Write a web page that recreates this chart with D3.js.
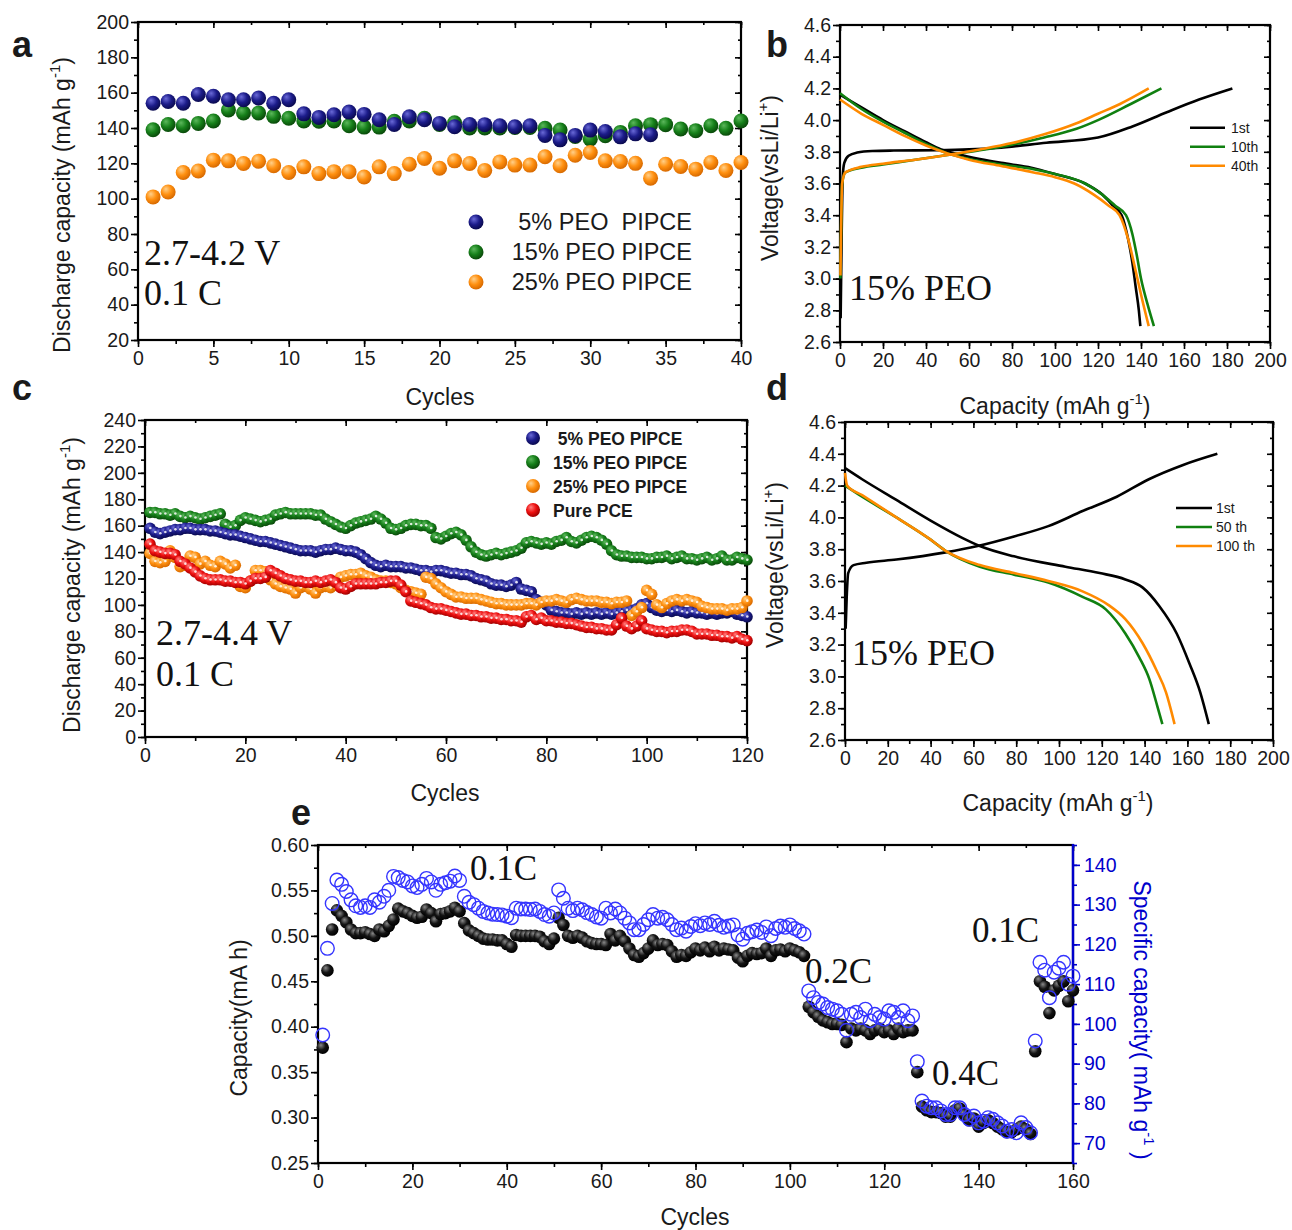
<!DOCTYPE html>
<html>
<head>
<meta charset="utf-8">
<script src="https://cdn.jsdelivr.net/npm/d3@7"></script>
<style>
  body { margin: 0; background: #fff; }
  svg text { font-family: "Liberation Sans", Arial, sans-serif; fill: #1a1a1a; }
  svg text.serif { font-family: "Liberation Serif", "Times New Roman", serif; fill: #111; }
  svg text.pre { white-space: pre; }
</style>
</head>
<body>
<script>
// ---------- panel a: discharge capacity, 2.7-4.2 V (cycle = index + 1)
var aPeo5 = [154, 155, 154, 159, 158, 156, 156, 157, 154, 156, 148, 146, 147.5, 149, 147.7, 144.7, 142, 146.4, 144.7, 142.6,
  140.7, 142, 141.9, 141.3, 140.7, 141.3, 135.8, 133.3, 135.8, 138.8, 138, 135, 136.7, 136.2];
var aPeo15 = [139, 142, 141.3, 142.6, 144, 150.2, 148.5, 148.5, 146.6, 145.5, 144, 143.8, 144, 141.3, 140.5, 140.5, 143.8, 144, 145.5, 142,
  143, 140, 140, 140, 140.3, 140.3, 139.8, 138.8, 135.2, 133.7, 135.6, 137.5, 141.3, 141.9, 141.9, 139.4, 138.5, 141.3, 139.8, 144];
var aPeo25 = [101, 103.8, 114.8, 115.7, 121.8, 121.4, 119.9, 121.2, 118.6, 114.8, 118, 114.2, 115.3, 115.2, 112.3, 118, 114.2, 119.5, 122.7, 117.2,
  121.4, 119.9, 116, 120.8, 119, 119, 123.7, 118.6, 124.6, 126.1, 121.4, 121, 120, 111.6, 119.5, 118.2, 116.7, 120.5, 116, 120.5];
var aLegend = ["5% PEO  PIPCE", "15% PEO PIPCE", "25% PEO PIPCE"];

// ---------- panel b: charge/discharge curves [capacity, voltage]
var bCharge1 = [[0.3, 2.75], [0.8, 3.3], [1.3, 3.65], [2, 3.73], [4, 3.775], [8, 3.795], [15, 3.805], [25, 3.808], [45, 3.81], [60, 3.815],
  [73, 3.825], [96, 3.857], [120, 3.89], [136, 3.96], [152, 4.05], [167, 4.13], [182.5, 4.2]];
var bDis1 = [[0, 4.16], [10, 4.08], [20, 4.0], [30, 3.93], [40, 3.86], [47, 3.815], [55, 3.785], [65, 3.755], [75, 3.73], [89, 3.7],
  [100, 3.66], [114, 3.6], [122, 3.53], [127, 3.46], [131, 3.4], [134, 3.25], [136, 3.1], [137.5, 2.95], [139, 2.8], [139.7, 2.7]];
var bCharge10 = [[0.2, 3.0], [1, 3.6], [2.5, 3.67], [10, 3.7], [20, 3.72], [35, 3.75], [50, 3.78], [65, 3.81], [80, 3.845], [95, 3.89],
  [110, 3.945], [120, 4.0], [135, 4.1], [149.5, 4.2]];
var bDis10 = [[0, 4.17], [10, 4.07], [20, 3.99], [30, 3.92], [40, 3.85], [50, 3.79], [60, 3.755], [75, 3.72], [90, 3.69], [100, 3.66],
  [114, 3.6], [122, 3.53], [128, 3.46], [133, 3.4], [136, 3.28], [138, 3.15], [140, 3.0], [143, 2.84], [146, 2.7]];
var bCharge40 = [[0.2, 3.02], [1, 3.6], [2.5, 3.67], [10, 3.705], [20, 3.725], [35, 3.75], [50, 3.78], [65, 3.815], [80, 3.855], [95, 3.91],
  [110, 3.98], [120, 4.04], [130, 4.1], [143.6, 4.2]];
var bDis40 = [[0, 4.13], [10, 4.04], [20, 3.97], [30, 3.9], [40, 3.84], [50, 3.79], [60, 3.75], [75, 3.71], [90, 3.67], [100, 3.64],
  [109, 3.6], [118, 3.53], [125, 3.46], [130, 3.4], [134, 3.25], [137.5, 3.05], [140, 2.9], [143.6, 2.7]];
var bLegend = ["1st", "10th", "40th"];

// ---------- panel c: discharge capacity, 2.7-4.4 V (cycle = index + 1)
var cPeo5 = [158, 155, 154, 155, 156, 157, 157, 158, 158, 157, 157, 157, 156, 156, 155, 154, 153, 153, 152, 151,
  150, 149, 148, 148, 147, 146, 145, 144, 143, 142, 141, 141, 141, 140, 141, 142, 142, 143, 142, 141,
  141, 140, 138, 135, 132, 130, 129, 130, 129, 129, 129, 128, 128, 127, 126, 126, 125, 126, 126, 125,
  124, 124, 123, 123, 122, 120, 119, 118, 116, 115, 115, 114, 115, 117, 112, 111, 110, 104, 102, 100,
  96, 95, 94, 94, 93, 94, 93, 94, 93, 94, 93, 94, 93, 94, 95, 96, 96, 97, 100, 101,
  98, 96, 95, 96, 95, 96, 95, 94, 95, 94, 94, 93, 94, 93, 94, 94, 95, 93, 92, 91];
var cPeo15 = [170, 170, 169, 169, 168, 169, 167, 166, 167, 166, 165, 166, 167, 168, 169, 161, 159, 160, 164, 166,
  165, 164, 163, 164, 165, 168, 169, 170, 169, 169, 169, 169, 169, 168, 168, 165, 163, 161, 159, 158,
  160, 162, 163, 164, 165, 167, 165, 162, 158, 157, 158, 160, 161, 161, 160, 160, 158, 151, 150, 152,
  154, 155, 153, 149, 144, 140, 138, 137, 138, 139, 138, 139, 140, 141, 143, 147, 148, 147, 146, 147,
  146, 148, 149, 151, 148, 147, 149, 151, 152, 151, 149, 146, 141, 138, 137, 137, 136, 136, 136, 135,
  135, 136, 136, 137, 135, 136, 137, 135, 135, 134, 135, 136, 134, 135, 137, 134, 134, 136, 135, 134];
var cPeo25 = [139, 133, 132, 133, 141, 136, 129, 130, 137, 136, 131, 133, 130, 129, 133, 131, 128, 130, 114, 113,
  118, 126, 126, 125, 119, 116, 114, 113, 112, 109, 113, 114, 112, 109, 113, 114, 113, 115, 121, 122,
  123, 123, 124, 122, 121, 119, 118, 118, 117, 116, 113, 111, 110, 109, 108, 121, 120, 116, 113, 110,
  108, 106, 106, 105, 105, 105, 104, 103, 102, 101, 101, 100, 100, 100, 100, 101, 101, 100, 102, 103,
  103, 104, 103, 102, 104, 105, 104, 103, 103, 103, 102, 102, 101, 102, 102, 103, 92, 95, 98, 111,
  108, 100, 98, 101, 103, 104, 103, 104, 103, 102, 99, 98, 97, 97, 97, 96, 97, 97, 98, 103];
var cPure = [146, 141, 140, 139, 139, 138, 133, 131, 128, 125, 122, 120, 119, 119, 119, 118, 118, 117, 117, 116,
  118, 120, 120, 121, 126, 124, 122, 120, 119, 118, 118, 117, 117, 118, 117, 118, 119, 117, 113, 112,
  114, 116, 116, 116, 116, 116, 117, 117, 118, 118, 115, 110, 103, 102, 101, 100, 98, 97, 97, 96,
  95, 94, 93, 93, 92, 92, 91, 91, 90, 90, 89, 89, 88, 88, 87, 91, 92, 89, 90, 88,
  88, 87, 87, 86, 86, 85, 84, 83, 83, 82, 82, 81, 81, 85, 90, 84, 82, 84, 88, 82,
  81, 80, 80, 79, 80, 80, 81, 81, 80, 78, 78, 78, 77, 77, 76, 76, 75, 76, 74, 73];
var cLegend = [" 5% PEO PIPCE", "15% PEO PIPCE", "25% PEO PIPCE", "Pure PCE"];

// ---------- panel d: charge/discharge curves [capacity, voltage]
var dCharge1 = [[0.3, 3.3], [0.8, 3.5], [1.5, 3.65], [4, 3.7], [10, 3.715], [24, 3.735], [47, 3.78], [62, 3.82], [79, 3.88], [95, 3.945],
  [111, 4.04], [127, 4.13], [142, 4.24], [158, 4.33], [174, 4.4]];
var dDis1 = [[0, 4.31], [8, 4.24], [24, 4.11], [40, 3.98], [55, 3.87], [63, 3.82], [79, 3.755], [103, 3.69], [119, 3.65], [131, 3.61],
  [139, 3.56], [147, 3.44], [155, 3.27], [161, 3.08], [166, 2.9], [170, 2.7]];
var dDis50 = [[0, 4.2], [8, 4.13], [24, 4.0], [40, 3.86], [47, 3.79], [63, 3.69], [79, 3.64], [95, 3.59], [111, 3.5], [122, 3.42],
  [131, 3.27], [137.5, 3.12], [142.3, 2.98], [146, 2.81], [148.3, 2.7]];
var dDis100 = [[0, 4.28], [1, 4.2], [8, 4.14], [24, 4.0], [40, 3.86], [47, 3.79], [63, 3.7], [79, 3.65], [95, 3.6], [111, 3.535],
  [123, 3.45], [131, 3.36], [139, 3.21], [145.5, 3.04], [150, 2.9], [154, 2.7]];
var dLegend = ["1st", "50 th", "100 th"];

// ---------- panel e: rate test (cycle = index + 1)
var eCapacity = [0.377, 0.462, 0.507, 0.528, 0.522, 0.515, 0.507, 0.503, 0.503, 0.504,
  0.502, 0.500, 0.507, 0.505, 0.511, 0.518, 0.530, 0.527, 0.525, 0.522,
  0.520, 0.521, 0.529, 0.525, 0.516, 0.524, 0.525, 0.527, 0.531, 0.527,
  0.514, 0.506, 0.503, 0.500, 0.497, 0.496, 0.496, 0.495, 0.495, 0.491,
  0.488, 0.501, 0.500, 0.500, 0.500, 0.500, 0.499, 0.494, 0.491, 0.497,
  0.520, 0.512, 0.500, 0.498, 0.500, 0.498, 0.494, 0.492, 0.491, 0.491,
  0.490, 0.502, 0.495, 0.500, 0.494, 0.486, 0.479, 0.477, 0.481, 0.486,
  0.495, 0.490, 0.491, 0.490, 0.483, 0.477, 0.479, 0.478, 0.482, 0.486,
  0.484, 0.487, 0.483, 0.488, 0.484, 0.486, 0.485, 0.484, 0.476, 0.472,
  0.478, 0.481, 0.480, 0.481, 0.486, 0.478, 0.484, 0.485, 0.483, 0.486,
  0.484, 0.482, 0.478, 0.422, 0.416, 0.411, 0.407, 0.405, 0.403, 0.403,
  0.402, 0.383, 0.398, 0.396, 0.398, 0.396, 0.392, 0.396, 0.398, 0.394,
  0.396, 0.392, 0.398, 0.394, 0.396, 0.396, 0.350, 0.312, 0.308, 0.306,
  0.306, 0.305, 0.301, 0.301, 0.308, 0.310, 0.303, 0.297, 0.299, 0.290,
  0.294, 0.297, 0.294, 0.290, 0.287, 0.284, 0.284, 0.287, 0.290, 0.287,
  0.282, 0.373, 0.450, 0.444, 0.415, 0.440, 0.445, 0.450, 0.428, 0.440];
var eSpecific = [97.2, 119.0, 130.3, 136.2, 135.1, 133.3, 131.2, 129.7, 129.3, 129.7,
  129.3, 131.2, 130.6, 132.1, 133.6, 137.1, 136.8, 136.1, 135.7, 134.7,
  134.3, 135.1, 136.6, 135.7, 133.6, 135.1, 135.5, 135.9, 137.2, 136.1,
  132.1, 130.6, 130.0, 129.1, 128.3, 127.9, 127.6, 127.5, 127.4, 127.1,
  126.7, 129.1, 128.9, 128.9, 128.8, 128.9, 128.3, 127.5, 127.1, 127.9,
  133.7, 131.6, 129.1, 128.5, 129.1, 128.7, 128.0, 127.5, 126.9, 126.6,
  129.1, 127.9, 128.9, 127.9, 126.6, 125.4, 123.7, 123.7, 125.0, 126.2,
  127.5, 126.6, 126.8, 126.2, 125.0, 123.7, 124.1, 123.3, 124.5, 125.2,
  124.7, 125.4, 125.0, 125.8, 124.8, 124.3, 124.6, 124.9, 122.4, 121.3,
  122.8, 123.2, 123.6, 123.0, 124.4, 122.2, 124.0, 124.6, 124.3, 124.9,
  124.0, 123.4, 122.6, 108.3, 106.6, 105.4, 105.0, 104.1, 103.7, 103.3,
  102.4, 98.4, 102.4, 102.9, 101.6, 103.7, 100.8, 102.4, 101.6, 101.2,
  103.3, 102.9, 101.6, 103.3, 100.8, 102.0, 90.5, 80.6, 79.3, 78.9,
  78.9, 78.1, 77.2, 77.2, 78.9, 78.9, 77.2, 76.0, 76.8, 75.1,
  75.5, 76.4, 76.0, 75.1, 74.3, 73.0, 73.4, 72.6, 75.1, 73.9,
  72.6, 95.7, 115.5, 113.5, 106.6, 113.0, 114.0, 115.5, 110.0, 112.0];
var eRates = ["0.1C", "0.2C", "0.4C", "0.1C"];

var svg = d3.select("body").append("svg").attr("width", 1292).attr("height", 1230);
svg.append("rect").attr("width", 1292).attr("height", 1230).attr("fill", "#fff");

// shaded ball gradients
var defs = svg.append("defs");
function ball(id, hi, base, dark) {
  var gr = defs.append("radialGradient").attr("id", id).attr("cx", "40%").attr("cy", "38%").attr("r", "62%")
    .attr("fx", "35%").attr("fy", "30%");
  gr.append("stop").attr("offset", "0%").attr("stop-color", hi);
  gr.append("stop").attr("offset", "55%").attr("stop-color", base);
  gr.append("stop").attr("offset", "100%").attr("stop-color", dark);
}
ball("gBlue", "#6a6ad8", "#1c1c8a", "#0a0a50");
ball("gGreen", "#5cb85c", "#16801a", "#0a4a0a");
ball("gOrange", "#ffd08a", "#ff9010", "#d86a00");
ball("gRed", "#ff8080", "#ee1010", "#a00000");
ball("gBlack", "#8a8a8a", "#141414", "#000");

var TICK = 19.5, TITLE = 23;

function range(a, b, step) {
  // tick positions, avoids float drift
  var out = [], n = Math.round((b - a) / step);
  for (var i = 0; i <= n; i++) out.push(+(a + i * step).toFixed(4));
  return out;
}

function makePanel(p) {
  var g = svg.append("g").attr("transform", "translate(" + p.left + "," + p.top + ")");
  var w = p.right - p.left, h = p.bottom - p.top;
  var x = d3.scaleLinear().domain(p.xDomain).range([0, w]);
  var y = d3.scaleLinear().domain(p.yDomain).range([h, 0]);
  var axes = g.append("g").attr("class", "axes");
  function put(axis, tr) {
    var a = axes.append("g").attr("transform", tr || null).call(axis);
    a.select(".domain").remove();
    a.selectAll("line").attr("stroke", "#000").attr("stroke-width", 1.6);
    a.selectAll("text").attr("font-size", TICK).attr("fill", "#1a1a1a")
      .attr("font-family", '"Liberation Sans", Arial, sans-serif');
    return a;
  }
  var xMaj = range(p.xDomain[0], p.xDomain[1], p.xStep);
  var xMin = range(p.xDomain[0], p.xDomain[1], p.xStep / 2);
  var yMaj = range(p.yDomain[0], p.yDomain[1], p.yStep);
  var yMin = range(p.yDomain[0], p.yDomain[1], p.yStep / 2);
  put(d3.axisBottom(x).tickValues(xMin).tickSize(4).tickFormat(""), "translate(0," + h + ")");
  put(d3.axisBottom(x).tickValues(xMaj).tickSize(7).tickPadding(4).tickFormat(p.xFmt), "translate(0," + h + ")");
  put(d3.axisBottom(x).tickValues(xMaj).tickSize(6).tickFormat(""));
  put(d3.axisBottom(x).tickValues(xMin).tickSize(3).tickFormat(""));
  put(d3.axisLeft(y).tickValues(yMin).tickSize(4).tickFormat(""));
  put(d3.axisLeft(y).tickValues(yMaj).tickSize(7).tickPadding(2).tickFormat(p.yFmt));
  if (!p.noRight) {
    put(d3.axisLeft(y).tickValues(yMaj).tickSize(6).tickFormat(""), "translate(" + w + ",0)");
    put(d3.axisLeft(y).tickValues(yMin).tickSize(3).tickFormat(""), "translate(" + w + ",0)");
  }
  g.append("rect").attr("width", w).attr("height", h).attr("fill", "none")
    .attr("stroke", "#000").attr("stroke-width", 2.2);
  return { g: g, x: x, y: y, w: w, h: h };
}

function label(txt, x, y) {
  svg.append("text").attr("x", x).attr("y", y).attr("font-size", 36).attr("font-weight", "bold").text(txt);
}
function title(x, y, pre, sup, post, rot, color) {
  var t = svg.append("text").attr("transform", "translate(" + x + "," + y + ") rotate(" + rot + ")")
    .attr("text-anchor", "middle").attr("font-size", TITLE).attr("class", "pre");
  if (color) t.style("fill", color);
  t.append("tspan").text(pre);
  if (sup) {
    t.append("tspan").attr("font-size", 15).attr("dy", -10).text(sup);
    t.append("tspan").attr("dy", 10).text(post);
  }
  return t;
}
function serif(txt, x, y, size) {
  svg.append("text").attr("class", "serif").attr("x", x).attr("y", y).attr("font-size", size || 36).text(txt);
}
function balls(pan, vals, grad, r, dots) {
  var s = pan.g.append("g");
  s.selectAll("circle").data(vals).join("circle")
    .attr("cx", function (d, i) { return pan.x(i + 1); })
    .attr("cy", function (d) { return pan.y(d); })
    .attr("r", r).attr("fill", "url(#" + grad + ")");
  if (dots) {
    s.selectAll("circle.dot").data(vals).join("circle").attr("class", "dot")
      .attr("cx", function (d, i) { return pan.x(i + 1) + 0.3; })
      .attr("cy", function (d) { return pan.y(d) - 0.3; })
      .attr("r", 1.3).attr("fill", "#fff").attr("opacity", 0.85);
  }
}
function curve(pan, pts, color) {
  var line = d3.line().x(function (d) { return pan.x(d[0]); }).y(function (d) { return pan.y(d[1]); })
    .curve(d3.curveMonotoneX);
  pan.g.append("path").datum(pts).attr("d", line).attr("fill", "none")
    .attr("stroke", color).attr("stroke-width", 2.6).attr("stroke-linejoin", "round");
}

var fmtInt = function (d) { return d; };
var fmtV = d3.format(".1f");

// ---------- a
var pa = makePanel({ left: 138, right: 741, top: 22, bottom: 340, xDomain: [0, 40], yDomain: [20, 200],
  xStep: 5, yStep: 20, xFmt: fmtInt, yFmt: fmtInt });
balls(pa, aPeo15, "gGreen", 7.5);
balls(pa, aPeo25, "gOrange", 7.5);
balls(pa, aPeo5, "gBlue", 7.5);
["gBlue", "gGreen", "gOrange"].forEach(function (gr, i) {
  svg.append("circle").attr("cx", 476).attr("cy", 222 + i * 30).attr("r", 7.5).attr("fill", "url(#" + gr + ")");
  svg.append("text").attr("class", "pre").attr("x", 692).attr("y", 230 + i * 30).attr("text-anchor", "end")
    .attr("font-size", 23.5).text(aLegend[i]);
});
serif("2.7-4.2 V", 144, 265);
serif("0.1 C", 144, 305);
label("a", 12, 57);
title(70, 205, "Discharge capacity (mAh g", "-1", ")", -90);
title(440, 405, "Cycles", null, null, 0);

// ---------- b
var pb = makePanel({ left: 840, right: 1270, top: 25, bottom: 342, xDomain: [0, 200], yDomain: [2.6, 4.6],
  xStep: 20, yStep: 0.2, xFmt: fmtInt, yFmt: fmtV });
curve(pb, bCharge1, "#000"); curve(pb, bDis1, "#000");
curve(pb, bCharge10, "#108010"); curve(pb, bDis10, "#108010");
curve(pb, bCharge40, "#ff8a00"); curve(pb, bDis40, "#ff8a00");
["#000", "#108010", "#ff8a00"].forEach(function (c, i) {
  var yy = 127.7 + i * 19;
  svg.append("line").attr("x1", 1190).attr("x2", 1225).attr("y1", yy).attr("y2", yy).attr("stroke", c).attr("stroke-width", 2.6);
  svg.append("text").attr("x", 1231).attr("y", yy + 5).attr("font-size", 14).text(bLegend[i]);
});
serif("15% PEO", 849, 300);
label("b", 766, 57);
title(778, 178, "Voltage(vsLi/Li", "+", ")", -90);
title(1055, 414, "Capacity (mAh g", "-1", ")", 0);

// ---------- c
var pc = makePanel({ left: 145, right: 747, top: 420, bottom: 737, xDomain: [0, 120], yDomain: [0, 240],
  xStep: 20, yStep: 20, xFmt: fmtInt, yFmt: fmtInt });
balls(pc, cPeo15, "gGreen", 5.8, true);
balls(pc, cPeo5, "gBlue", 5.8, true);
balls(pc, cPeo25, "gOrange", 5.8, true);
balls(pc, cPure, "gRed", 5.8, true);
["gBlue", "gGreen", "gOrange", "gRed"].forEach(function (gr, i) {
  svg.append("circle").attr("cx", 533).attr("cy", 438 + i * 24).attr("r", 7).attr("fill", "url(#" + gr + ")");
  svg.append("text").attr("class", "pre").attr("x", 553).attr("y", 445 + i * 24).attr("font-size", 17.5)
    .attr("font-weight", "bold").text(cLegend[i]);
});
serif("2.7-4.4 V", 156, 645);
serif("0.1 C", 156, 686);
label("c", 12, 400);
title(80, 585, "Discharge capacity (mAh g", "-1", ")", -90);
title(445, 801, "Cycles", null, null, 0);

// ---------- d
var pd = makePanel({ left: 845, right: 1273, top: 422, bottom: 740, xDomain: [0, 200], yDomain: [2.6, 4.6],
  xStep: 20, yStep: 0.2, xFmt: fmtInt, yFmt: fmtV });
curve(pd, dCharge1, "#000"); curve(pd, dDis1, "#000");
curve(pd, dDis50, "#108010");
curve(pd, dDis100, "#ff8a00");
["#000", "#108010", "#ff8a00"].forEach(function (c, i) {
  var yy = 508 + i * 19;
  svg.append("line").attr("x1", 1176).attr("x2", 1212).attr("y1", yy).attr("y2", yy).attr("stroke", c).attr("stroke-width", 2.6);
  svg.append("text").attr("x", 1216).attr("y", yy + 5).attr("font-size", 14).text(dLegend[i]);
});
serif("15% PEO", 852, 665);
label("d", 766, 400);
title(783, 565, "Voltage(vsLi/Li", "+", ")", -90);
title(1058, 811, "Capacity (mAh g", "-1", ")", 0);

// ---------- e
var pe = makePanel({ left: 318, right: 1073, top: 845, bottom: 1163, xDomain: [0, 160], yDomain: [0.25, 0.60],
  xStep: 20, yStep: 0.05, xFmt: fmtInt, yFmt: d3.format(".2f"), noRight: true });
var y2 = d3.scaleLinear().domain([65, 145]).range([pe.h, 0]);
var blue = "#0000cc";
[[range(65, 145, 5), 4, ""], [range(70, 140, 10), 7, null]].forEach(function (t) {
  var ax = d3.axisRight(y2).tickValues(t[0]).tickSize(t[1]).tickPadding(4);
  if (t[2] === "") ax.tickFormat("");
  var a = pe.g.append("g").attr("transform", "translate(" + pe.w + ",0)").call(ax);
  a.select(".domain").remove();
  a.selectAll("line").attr("stroke", blue).attr("stroke-width", 1.6);
  a.selectAll("text").attr("font-size", TICK).style("fill", blue);
});
pe.g.append("line").attr("x1", pe.w).attr("x2", pe.w).attr("y1", -1).attr("y2", pe.h + 1)
  .attr("stroke", blue).attr("stroke-width", 2.4);
balls(pe, eCapacity, "gBlack", 6.3, false);
pe.g.append("g").selectAll("circle").data(eSpecific).join("circle")
  .attr("cx", function (d, i) { return pe.x(i + 1); })
  .attr("cy", function (d) { return y2(d); })
  .attr("r", 6.8).attr("fill", "none").attr("stroke", "#3535ff").attr("stroke-width", 1.4);
var rateAt = [[470, 880], [805, 983], [932, 1085], [972, 942]];
eRates.forEach(function (r, i) { serif(r, rateAt[i][0], rateAt[i][1], 35); });
label("e", 291, 825);
title(247, 1018, "Capacity(mA h)", null, null, -90);
title(1134, 1020, "Specific capacity( mAh g", "-1", " )", 90, blue);
title(695, 1225, "Cycles", null, null, 0);
</script>
</body>
</html>
